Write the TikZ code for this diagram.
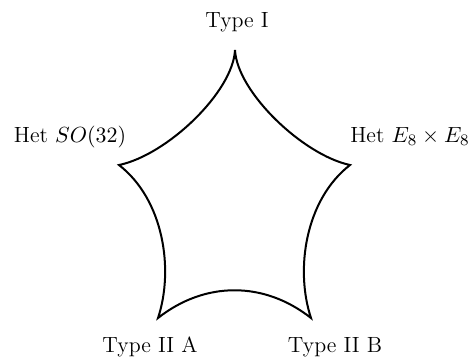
\documentclass[tikz,border=0pt]{standalone}
\begin{document}
\begin{tikzpicture}[x=0.5pt,y=-0.5pt,
  lbl/.style={font=\fontsize{11}{13}\selectfont, anchor=base, inner sep=0pt},
  edge/.style={line width=1pt, line join=miter}]
\useasboundingbox (0,0) rectangle (474,360);
% vertices
\coordinate (T) at (235,50);
\coordinate (R) at (350,165);
\coordinate (BR) at (311,318);
\coordinate (BL) at (158,318);
\coordinate (L) at (119,165);
% star
\draw[edge] (T) .. controls (237,92) and (303,155) .. (R)
  .. controls (305,200) and (295,270) .. (BR)
  .. controls (264,281) and (205,281) .. (BL)
  .. controls (174,270) and (164,200) .. (L)
  .. controls (167,155) and (233,92) .. (T);
% labels
\node[lbl] (t1) at (237,27) {Type I};
\node[lbl] (het1) at (70,142) {Het $SO(32)$};
\node[lbl] (het2) at (410,142) {Het $E_8\times E_8$};
\node[lbl] (t2a) at (150,352) {Type II A};
\node[lbl] (t2b) at (335,352) {Type II B};
\end{tikzpicture}
\end{document}
